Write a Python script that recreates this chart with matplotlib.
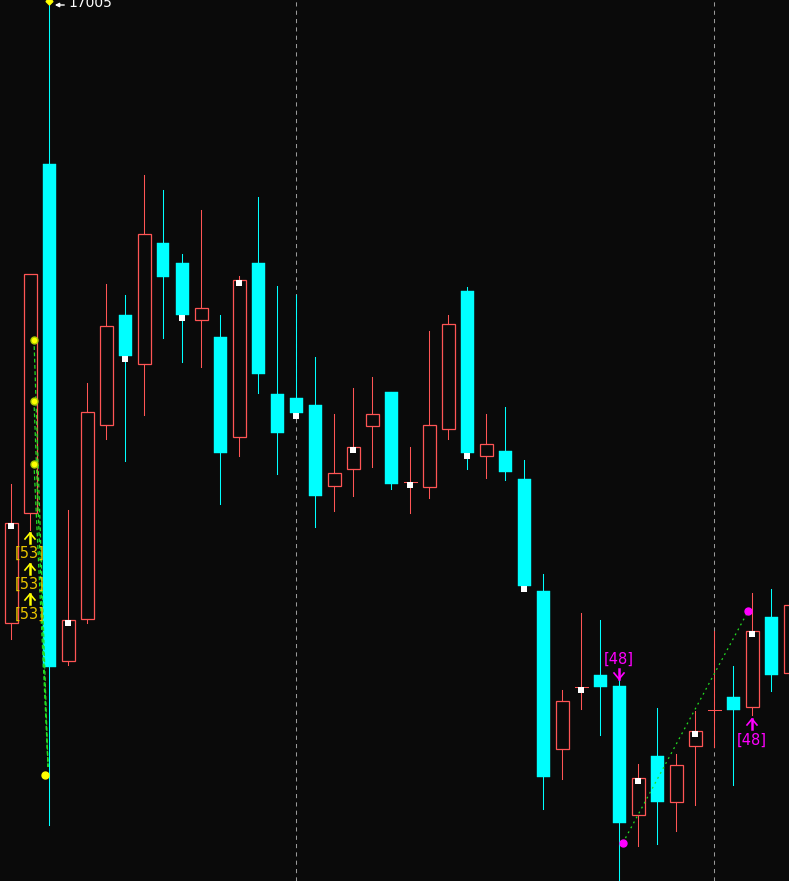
import numpy as np
import matplotlib
matplotlib.use("Agg")
import matplotlib.pyplot as plt
from matplotlib.patches import Rectangle

# candle data (price units), one entry per bar
opens = [16385, 16495, 16844, 16347, 16389, 16583, 16693, 16644, 16765, 16745,
         16688, 16671, 16571, 16745, 16614, 16610, 16603, 16522, 16539, 16582,
         16616, 16526, 16521, 16579, 16717, 16552, 16557, 16529, 16417, 16259,
         16321, 16333, 16322, 16193, 16252, 16206, 16262, 16298, 16311, 16301,
         16391, 16335]
highs = [16524, 16734, 17005, 16498, 16625, 16724, 16713, 16833, 16818, 16754,
         16798, 16693, 16732, 16811, 16722, 16713, 16651, 16594, 16620, 16631,
         16616, 16561, 16677, 16693, 16721, 16594, 16601, 16548, 16434, 16318,
         16395, 16388, 16331, 16244, 16300, 16254, 16297, 16377, 16342, 16415,
         16419, 16403]
lows = [16369, 16478, 16183, 16343, 16385, 16569, 16547, 16593, 16670, 16646,
        16641, 16504, 16552, 16615, 16534, 16590, 16481, 16497, 16512, 16541,
        16519, 16495, 16510, 16569, 16539, 16530, 16528, 16418, 16199, 16229,
        16299, 16273, 16124, 16162, 16164, 16177, 16203, 16261, 16223, 16293,
        16317, 16335]
closes = [16485, 16734, 16341, 16388, 16596, 16682, 16652, 16774, 16731, 16693,
          16700, 16555, 16728, 16634, 16575, 16595, 16512, 16535, 16561, 16594,
          16524, 16526, 16583, 16684, 16555, 16564, 16536, 16422, 16231, 16307,
          16321, 16321, 16185, 16230, 16206, 16243, 16277, 16298, 16298, 16377,
          16333, 16403]

# bars with a close marker, session separators
marked = list(range(0, 42, 3))
separators = [15, 37]

# signal points
buy_dots = [16668, 16607, 16544]
buy_end = 16241
buy_low_dot = 16233
buy_labels_y = [16455, 16424, 16394]
buy_label = "[53]"
sell_top = 16331
sell_label = "[48]"
line_start = (32.2, 16165)
line_end = (38.8, 16397)
buy2_low = 16293
top_label = "17005"

BG = "#0a0a0a"
UP = "#ff5555"
DOWN = "#00ffff"

W, H = 789, 881
fig = plt.figure(figsize=(W / 100, H / 100), dpi=100, facecolor=BG)
ax = fig.add_axes([0, 0, 1, 1])
ax.set_facecolor(BG)
ax.set_xlim(-11 / 19, (W - 11) / 19)
ax.set_ylim(17008 - H, 17008)
ax.axis("off")

px = 1 / 19      # one pixel in x units
lw = 0.75
bw = 13 * px

for s in separators:
    ax.axvline(s, color="#9a9a9a", lw=lw, ls=(0, (4, 4)), zorder=1)

for i in range(len(opens)):
    o, h, l, c = opens[i], highs[i], lows[i], closes[i]
    top, bot = max(o, c), min(o, c)
    if c >= o:
        col = UP
        if h > top:
            ax.plot([i, i], [top, h], color=col, lw=lw, zorder=2)
        if l < bot:
            ax.plot([i, i], [l, bot], color=col, lw=lw, zorder=2)
        if c == o:
            ax.plot([i - bw / 2, i + bw / 2], [c, c], color=col, lw=lw, zorder=3)
        else:
            ax.add_patch(Rectangle((i - bw / 2, bot), bw, top - bot, fill=False,
                                   edgecolor=col, lw=lw * 1.2, zorder=3))
    else:
        col = DOWN
        ax.plot([i, i], [l, h], color=col, lw=lw, zorder=2)
        ax.add_patch(Rectangle((i - bw / 2, bot), bw, top - bot, facecolor=col,
                               edgecolor=col, lw=0.3, zorder=3))

for i in marked:
    ax.add_patch(Rectangle((i - 3 * px, closes[i] - 6), 6 * px, 6,
                           facecolor="white", edgecolor="none", zorder=4))


def arrow(x, y, color, up=True):
    d = 1 if up else -1
    ax.plot([x - 5 * px, x, x + 5 * px], [y - 6 * d, y, y - 6 * d], color=color, lw=1.2, zorder=6)
    ax.plot([x, x], [y, y - 10 * d], color=color, lw=1.8, zorder=6)


# yellow signals on the left
dx = (34 - 11) * px
for y in buy_dots:
    ax.plot([dx, 2 - 0.05], [y, buy_end], color="#22dd22", lw=0.9, ls=(0, (3, 2)), zorder=5)
    ax.plot(dx, y, "o", ms=5, color="#ffff00", mec="#aacc00", zorder=6)
ax.plot((45 - 11) * px, buy_low_dot, "o", ms=5, color="#ffff00", zorder=6)
ax.plot(2, highs[2] + 2, "D", ms=3.5, color="#ffff00", zorder=6)
for y in buy_labels_y:
    arrow(1, y + 20, "#ffff00")
    ax.text(1, y, buy_label, color="#e8c400", fontsize=10.5, ha="center", va="center", zorder=6)

# top price label
ax.annotate("", xy=((52 - 11) * px, 17003), xytext=((67 - 11) * px, 17003),
            arrowprops=dict(arrowstyle="-|>", color="white", lw=1, mutation_scale=6), zorder=6)
ax.text((68 - 11) * px, 17001, top_label, color="white", fontsize=10, ha="left", va="baseline", zorder=6)

# magenta signals on the right
ax.text(32, sell_top + 18, sell_label, color="#ff00ff", fontsize=10.5, ha="center", va="center", zorder=6)
arrow(32, sell_top - 2, "#ff00ff", up=False)
ax.plot([line_start[0], line_end[0]], [line_start[1], line_end[1]], color="#22dd22",
        lw=0.9, ls=(0, (1.5, 3)), zorder=5)
ax.plot(*line_start, "o", ms=5, color="#ff00ff", zorder=6)
ax.plot(*line_end, "o", ms=5, color="#ff00ff", zorder=6)
arrow(39, buy2_low - 4, "#ff00ff")
ax.text(39, buy2_low - 25, sell_label, color="#ff00ff", fontsize=10.5, ha="center", va="center", zorder=6)

fig.savefig("out.png", dpi=100, facecolor=BG)
